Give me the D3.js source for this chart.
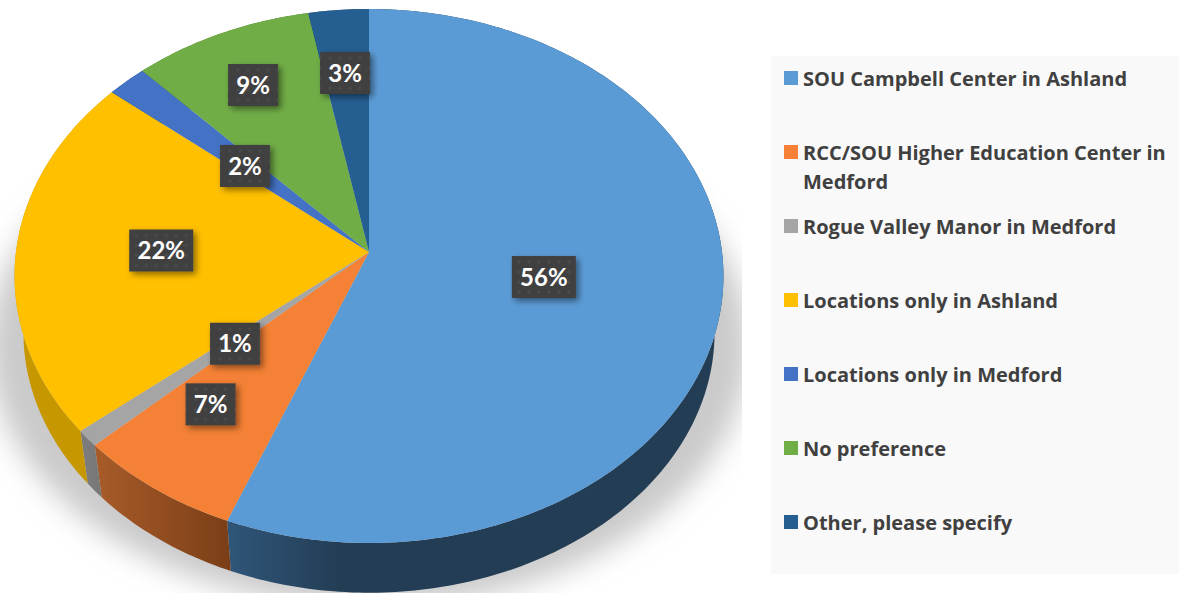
<!DOCTYPE html>
<html>
<head>
<meta charset="utf-8">
<script src="https://cdn.jsdelivr.net/npm/d3@7"></script>
<style>
  html, body { margin: 0; padding: 0; background: #fff; }
  svg { display: block; }
  text { font-family: "Open Sans", Lato, sans-serif; font-weight: 700; }
  .data-label { font-family: Lato, "Open Sans", sans-serif; }
</style>
</head>
<body>
<div id="chart"></div>
<script>
const categories = [
  ["SOU Campbell Center in Ashland"],
  ["RCC/SOU Higher Education Center in", "Medford"],
  ["Rogue Valley Manor in Medford"],
  ["Locations only in Ashland"],
  ["Locations only in Medford"],
  ["No preference"],
  ["Other, please specify"]
];
const values = [56, 7, 1, 22, 2, 9, 3];
const colors = ["#5b9bd5", "#f48135", "#a5a5a5", "#ffc000", "#4472c4", "#70ad47", "#255e91"];
const sideLight = ["#2f5578", "#a65a28", "#7c7c7c", "#c79700", "#2f4f88", "#4e7831", "#1a4165"];
const sideDark = ["#233d55", "#7a3e17", "#767676", "#b98c00", "#2f4f88", "#4e7831", "#1a4165"];
// how far out along its slice each label sits, 0 centre to 1 rim
const labelRadial = [0.5, 0.686, 0.5, 0.59, 0.5, 0.757, 0.72];
// hand moved labels, as in the original
const labelNudge = [[0, 0], [-15, -6], [2.4, 1.5], [0.5, -1.5], [0.8, 1.9], [-1.6, 1.4], [-1.5, -0.7]];

const width = 1179, height = 593;
const apex = { x: 369, y: 252 };
const R = 353, S = 264.8, k = 0.09;
const depth = { scale: 0.975, dy: 57 };

// tilted disc: angle + radius fraction to page position
const project = function (a, r, lower) {
  const u = Math.sin(a) * r, v = -Math.cos(a) * r;
  const w = 1 - k * v;
  const s = lower ? depth.scale : 1;
  return [
    apex.x + s * R * u / w,
    apex.y + s * S * v / w + (lower ? depth.dy : 0)
  ];
};

const arcPoints = function (a0, a1, lower) {
  const n = Math.max(2, Math.ceil((a1 - a0) * 60));
  return d3.range(n + 1).map(i => project(a0 + (a1 - a0) * i / n, 1, lower));
};

const line = d3.line();
const pie = d3.pie().sort(null).value(d => d);
const slices = pie(values);

const svg = d3.select("#chart").append("svg")
  .attr("width", width)
  .attr("height", height);

const defs = svg.append("defs");

defs.append("clipPath").attr("id", "chart-clip")
  .append("rect").attr("width", 742).attr("height", height);

defs.append("filter").attr("id", "soft")
  .attr("x", "-20%").attr("y", "-20%").attr("width", "140%").attr("height", "140%")
  .append("feGaussianBlur").attr("stdDeviation", 14);

const labelShadow = defs.append("filter").attr("id", "label-shadow")
  .attr("x", "-30%").attr("y", "-30%").attr("width", "170%").attr("height", "170%");
labelShadow.append("feDropShadow")
  .attr("dx", 3).attr("dy", 3).attr("stdDeviation", 3)
  .attr("flood-color", "#000").attr("flood-opacity", 0.45);

const dots = defs.append("pattern").attr("id", "dots")
  .attr("width", 10).attr("height", 10).attr("patternUnits", "userSpaceOnUse");
dots.append("rect").attr("width", 10).attr("height", 10).attr("fill", "#404040");
dots.append("circle").attr("cx", 5).attr("cy", 5).attr("r", 1.6).attr("fill", "#4c4c4c");

slices.forEach((d, i) => {
  const a = project(d.startAngle, 1, true), b = project(d.endAngle, 1, true);
  const g = defs.append("linearGradient").attr("id", "side-" + i)
    .attr("gradientUnits", "userSpaceOnUse")
    .attr("x1", Math.min(a[0], b[0])).attr("y1", 0)
    .attr("x2", Math.max(a[0], b[0])).attr("y2", 0);
  if (i === 0) {
    // the big blue side only shades across its first stretch
    g.attr("x1", 230).attr("x2", 340);
  }
  g.append("stop").attr("offset", 0).attr("stop-color", sideLight[i]);
  g.append("stop").attr("offset", 1).attr("stop-color", sideDark[i]);
});

// soft shadow under the pie, cut off at the chart edge
svg.append("g").attr("clip-path", "url(#chart-clip)")
  .append("path")
  .attr("d", line(arcPoints(0, 2 * Math.PI, true).map(p => [
    apex.x + (p[0] - apex.x) * 1.1,
    p[1] + 14
  ])) + "Z")
  .attr("fill", "#cacaca")
  .attr("filter", "url(#soft)");

// sides
const sides = svg.append("g");
slices.forEach((d, i) => {
  const top = arcPoints(d.startAngle, d.endAngle, false);
  const low = arcPoints(d.startAngle, d.endAngle, true).reverse();
  sides.append("path")
    .attr("d", line(top.concat(low)) + "Z")
    .attr("fill", "url(#side-" + i + ")");
});

// top face
const faces = svg.append("g");
slices.forEach((d, i) => {
  const pts = [[apex.x, apex.y]].concat(arcPoints(d.startAngle, d.endAngle, false));
  faces.append("path")
    .attr("d", line(pts) + "Z")
    .attr("fill", colors[i]);
});

// data labels
const labels = svg.append("g");
slices.forEach((d, i) => {
  const mid = (d.startAngle + d.endAngle) / 2;
  const p = project(mid, labelRadial[i], false);
  const boxW = values[i] >= 10 ? 64 : 50, boxH = 42;
  const g = labels.append("g")
    .attr("transform", "translate(" + (p[0] + labelNudge[i][0]) + "," + (p[1] + labelNudge[i][1]) + ")");
  g.append("rect")
    .attr("x", -boxW / 2).attr("y", -boxH / 2)
    .attr("width", boxW).attr("height", boxH)
    .attr("fill", "url(#dots)")
    .attr("filter", "url(#label-shadow)");
  g.append("text")
    .attr("class", "data-label")
    .attr("text-anchor", "middle")
    .attr("dy", "0.36em")
    .attr("fill", "#fff")
    .style("font-size", "24px")
    .text(values[i] + "%");
});

// legend
const legendTop = 56, legendBottom = 574, legendX = 771;
svg.append("rect")
  .attr("x", legendX).attr("y", legendTop)
  .attr("width", width - legendX).attr("height", legendBottom - legendTop)
  .attr("fill", "#f9f9f9");

const legendY = d3.scaleLinear().domain([0, categories.length - 1]).range([78, 522]);

const legend = svg.append("g");
categories.forEach((lines, i) => {
  const y = legendY(i);
  legend.append("rect")
    .attr("x", 784).attr("y", y - 7)
    .attr("width", 14).attr("height", 14)
    .attr("fill", colors[i]);
  lines.forEach((t, j) => {
    legend.append("text")
      .attr("x", 803).attr("y", y + 1 + j * 29)
      .attr("dy", "0.35em")
      .attr("fill", "#404040")
      .style("font-size", "20px")
      .text(t);
  });
});
</script>
</body>
</html>
